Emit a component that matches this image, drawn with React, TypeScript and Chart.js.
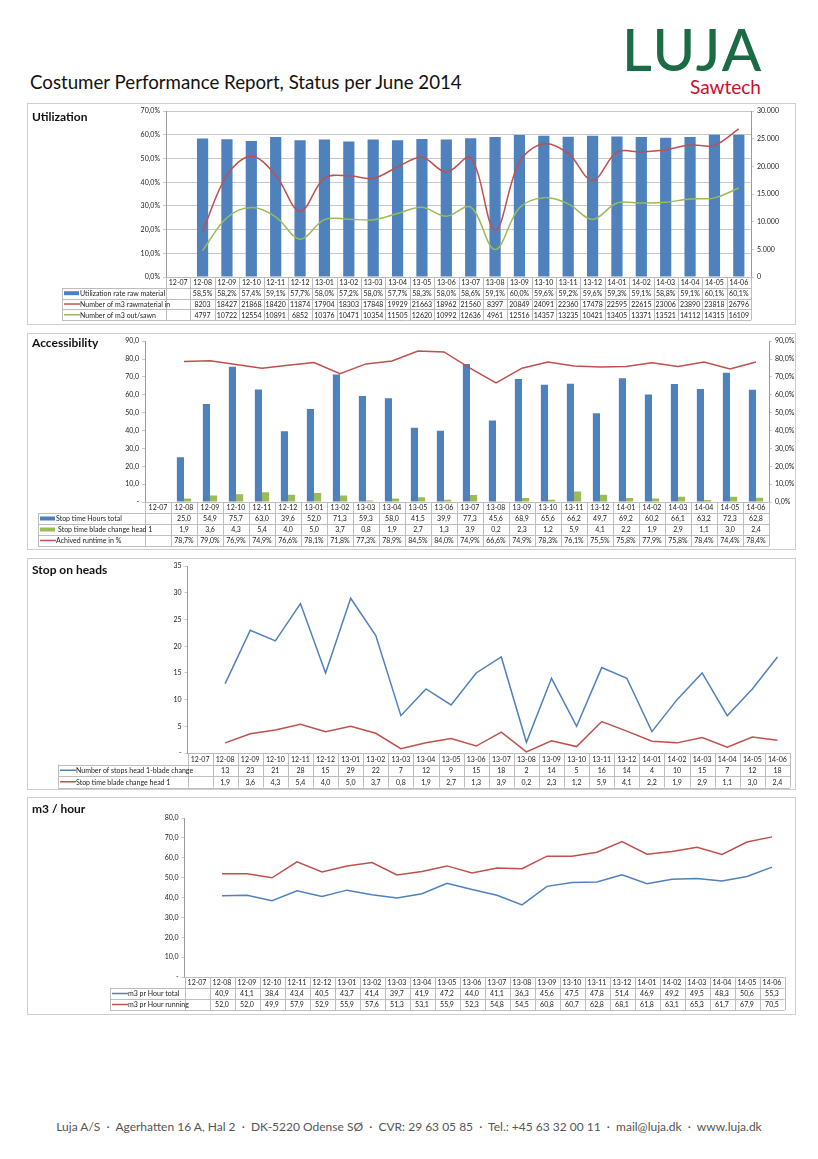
import React, { useEffect, useRef } from 'react';
import { Chart, registerables } from 'chart.js';
Chart.register(...registerables);

const categories = ['12-07','12-08','12-09','12-10','12-11','12-12','13-01','13-02','13-03','13-04','13-05','13-06','13-07','13-08','13-09','13-10','13-11','13-12','14-01','14-02','14-03','14-04','14-05','14-06'];

const utilizationRate = [null,58.5,58.2,57.4,59.1,57.7,58.0,57.2,58.0,57.7,58.3,58.0,58.6,59.1,60.0,59.6,59.2,59.6,59.3,59.1,58.8,59.1,60.1,60.1];
const rawMaterialIn = [null,8203,18427,21868,18420,11874,17904,18303,17848,19929,21663,18962,21560,8397,20849,24091,22360,17478,22595,22615,23006,23890,23818,26796];
const sawnOut = [null,4797,10722,12554,10891,6852,10376,10471,10354,11505,12620,10992,12636,4961,12516,14357,13235,10421,13405,13371,13521,14112,14315,16109];

const stopHoursTotal = [null,25.0,54.9,75.7,63.0,39.6,52.0,71.3,59.3,58.0,41.5,39.9,77.3,45.6,68.9,65.6,66.2,49.7,69.2,60.2,66.1,63.2,72.3,62.8];
const bladeChangeStop = [null,1.9,3.6,4.3,5.4,4.0,5.0,3.7,0.8,1.9,2.7,1.3,3.9,0.2,2.3,1.2,5.9,4.1,2.2,1.9,2.9,1.1,3.0,2.4];
const achievedRuntime = [null,78.7,79.0,76.9,74.9,76.6,78.1,71.8,77.3,78.9,84.5,84.0,74.9,66.6,74.9,78.3,76.1,75.5,75.8,77.9,75.8,78.4,74.4,78.4];

const stopsHead1 = [null,13,23,21,28,15,29,22,7,12,9,15,18,2,14,5,16,14,4,10,15,7,12,18];

const m3HourTotal = [null,40.9,41.1,38.4,43.4,40.5,43.7,41.4,39.7,41.9,47.2,44.0,41.1,36.3,45.6,47.5,47.8,51.4,46.9,49.2,49.5,48.3,50.6,55.3];
const m3HourRunning = [null,52.0,52.0,49.9,57.9,52.9,55.9,57.6,51.3,53.1,55.9,52.3,54.8,54.5,60.8,60.7,62.8,68.1,61.8,63.1,65.3,61.7,67.9,70.5];

const utilLeftTicks = ['0,0%','10,0%','20,0%','30,0%','40,0%','50,0%','60,0%','70,0%'];
const utilRightTicks = ['0','5.000','10.000','15.000','20.000','25.000','30.000'];
const accLeftTicks = ['-','10,0','20,0','30,0','40,0','50,0','60,0','70,0','80,0','90,0'];
const accRightTicks = ['0,0%','10,0%','20,0%','30,0%','40,0%','50,0%','60,0%','70,0%','80,0%','90,0%'];
const stopTicks = ['-','5','10','15','20','25','30','35'];
const m3Ticks = ['-','10,0','20,0','30,0','40,0','50,0','60,0','70,0','80,0'];

const BLUE = '#4f81bd';
const RED = '#c0504d';
const GREEN = '#9bbb59';
const FONT = 'Lato, "Liberation Sans", sans-serif';

const pct = (v: number | null) => (v == null ? '' : v.toFixed(1).replace('.', ',') + '%');
const dec = (v: number | null) => (v == null ? '' : v.toFixed(1).replace('.', ','));
const int = (v: number | null) => (v == null ? '' : String(v));

type Row = { label: string; kind: 'bar' | 'line'; color: string; values: string[]; indent?: number };

const BOX_LEFT = 27;
const BOX_W = 769;

function tablePlugin(rows: Row[], legendLeftPage: number, rowH: number) {
  return {
    id: 'dataTable',
    afterDraw(chart: any) {
      const { ctx, chartArea } = chart;
      const xs = chart.scales.x;
      const n = categories.length;
      const colW = (chartArea.right - chartArea.left) / n;
      const top = chartArea.bottom;
      const legendLeft = legendLeftPage - (BOX_LEFT + 1);
      const L = chartArea.left;
      const R = chartArea.right;
      ctx.save();
      ctx.strokeStyle = '#bdbdbd';
      ctx.lineWidth = 1;
      const hl = (x1: number, x2: number, y: number) => {
        ctx.beginPath();
        ctx.moveTo(x1, Math.round(y) + 0.5);
        ctx.lineTo(x2, Math.round(y) + 0.5);
        ctx.stroke();
      };
      const vl = (x: number, y1: number, y2: number) => {
        ctx.beginPath();
        ctx.moveTo(Math.round(x) + 0.5, y1);
        ctx.lineTo(Math.round(x) + 0.5, y2);
        ctx.stroke();
      };
      const bottom = top + rowH * (rows.length + 1);
      hl(L, R, top);
      for (let r = 1; r <= rows.length + 1; r++) hl(legendLeft, R, top + r * rowH);
      for (let i = 0; i <= n; i++) vl(L + i * colW, top, bottom);
      vl(legendLeft, top + rowH, bottom);
      ctx.fillStyle = '#222';
      ctx.font = `7px ${FONT}`;
      ctx.textAlign = 'center';
      ctx.textBaseline = 'middle';
      for (let i = 0; i < n; i++) {
        const cx = xs.getPixelForValue(i);
        ctx.fillText(categories[i], cx, top + rowH / 2 + 0.5);
        rows.forEach((row, r) => {
          const v = row.values[i];
          if (v) ctx.fillText(v, cx, top + (r + 1) * rowH + rowH / 2 + 0.5);
        });
      }
      rows.forEach((row, r) => {
        const cy = top + (r + 1) * rowH + rowH / 2;
        if (row.kind === 'bar') {
          ctx.fillStyle = row.color;
          ctx.fillRect(legendLeft + 2, cy - 2, 15, 4);
        } else {
          ctx.strokeStyle = row.color;
          ctx.lineWidth = 1.5;
          ctx.beginPath();
          ctx.moveTo(legendLeft + 2, cy);
          ctx.lineTo(legendLeft + 18, cy);
          ctx.stroke();
        }
        ctx.fillStyle = '#222';
        ctx.textAlign = 'left';
        ctx.fillText(row.label, legendLeft + 18 + (row.indent || 0), cy + 0.5);
      });
      ctx.restore();
    },
  };
}

type Geo = { top: number; height: number; plotL: number; plotR: number; plotT: number; plotB: number; rightAxis: boolean };

function layoutFor(g: Geo) {
  const ox = BOX_LEFT + 1;
  const oy = g.top + 1;
  const cw = BOX_W - 2;
  const ch = g.height - 2;
  return {
    padding: {
      left: 0,
      top: g.plotT - oy,
      bottom: ch - (g.plotB - oy),
      right: g.rightAxis ? 0 : cw - (g.plotR - ox),
    },
    leftW: g.plotL - ox,
    rightW: cw - (g.plotR - ox),
  };
}

function yAxis(pos: 'left' | 'right', max: number, step: number, labels: string[], width: number, grid: boolean) {
  return {
    position: pos,
    min: 0,
    max,
    afterFit: (s: any) => { s.width = width; },
    ticks: {
      stepSize: step,
      font: { family: FONT, size: 7 },
      color: '#222',
      padding: 3,
      callback: (_v: any, i: number) => labels[i],
    },
    grid: {
      display: true,
      drawOnChartArea: grid,
      color: '#c8c8c8',
      tickLength: 3,
    },
    border: { display: true, color: '#9a9a9a' },
  };
}

const xAxis = { type: 'category', display: false, offset: true, grid: { offset: true } };

const baseOpts = (g: Geo) => {
  const lay = layoutFor(g);
  return {
    responsive: false,
    animation: false,
    devicePixelRatio: 1,
    layout: { padding: lay.padding },
    plugins: { legend: { display: false }, tooltip: { enabled: false } },
    elements: { point: { radius: 0 } },
  };
};

const geo1: Geo = { top: 103, height: 222, plotL: 166, plotR: 751, plotT: 111, plotB: 277, rightAxis: true };
const geo2: Geo = { top: 333, height: 217, plotL: 145, plotR: 769, plotT: 341, plotB: 502, rightAxis: true };
const geo3: Geo = { top: 558, height: 232, plotL: 187.5, plotR: 790, plotT: 563, plotB: 753, rightAxis: false };
const geo4: Geo = { top: 797, height: 218, plotL: 184.5, plotR: 784.5, plotT: 818, plotB: 977, rightAxis: false };

function config1(): any {
  const lay = layoutFor(geo1);
  return {
    type: 'bar',
    data: {
      labels: categories,
      datasets: [
        { type: 'bar', label: 'Utilization rate raw material', data: utilizationRate, backgroundColor: BLUE, yAxisID: 'y', barPercentage: 0.46, categoryPercentage: 1, order: 2 },
        { type: 'line', label: 'Number of m3 rawmaterial in', data: rawMaterialIn, borderColor: RED, borderWidth: 1.5, tension: 0.35, yAxisID: 'y1', order: 1 },
        { type: 'line', label: 'Number of m3 out/sawn', data: sawnOut, borderColor: GREEN, borderWidth: 1.5, tension: 0.35, yAxisID: 'y1', order: 1 },
      ],
    },
    options: {
      ...baseOpts(geo1),
      scales: {
        x: xAxis,
        y: yAxis('left', 70, 10, utilLeftTicks, lay.leftW, true),
        y1: yAxis('right', 30000, 5000, utilRightTicks, lay.rightW, false),
      },
    },
    plugins: [tablePlugin([
      { label: 'Utilization rate raw material', kind: 'bar', color: BLUE, values: utilizationRate.map(pct) },
      { label: 'Number of m3 rawmaterial in', kind: 'line', color: RED, values: rawMaterialIn.map(int) },
      { label: 'Number of m3 out/sawn', kind: 'line', color: GREEN, values: sawnOut.map(int) },
    ], 62, 10.8)],
  };
}

function config2(): any {
  const lay = layoutFor(geo2);
  return {
    type: 'bar',
    data: {
      labels: categories,
      datasets: [
        { type: 'bar', label: 'Stop time Hours total', data: stopHoursTotal, backgroundColor: BLUE, yAxisID: 'y', barPercentage: 1, categoryPercentage: 0.55, order: 2 },
        { type: 'bar', label: 'Stop time blade change head 1', data: bladeChangeStop, backgroundColor: GREEN, yAxisID: 'y', barPercentage: 1, categoryPercentage: 0.55, order: 2 },
        { type: 'line', label: 'Achived runtime in %', data: achievedRuntime, borderColor: RED, borderWidth: 1.5, tension: 0, yAxisID: 'y1', order: 1 },
      ],
    },
    options: {
      ...baseOpts(geo2),
      scales: {
        x: xAxis,
        y: yAxis('left', 90, 10, accLeftTicks, lay.leftW, false),
        y1: yAxis('right', 90, 10, accRightTicks, lay.rightW, false),
      },
    },
    plugins: [tablePlugin([
      { label: 'Stop time Hours total', kind: 'bar', color: BLUE, values: stopHoursTotal.map(dec) },
      { label: 'Stop time blade change head 1', kind: 'bar', color: GREEN, values: bladeChangeStop.map(dec), indent: 2 },
      { label: 'Achived runtime in %', kind: 'line', color: RED, values: achievedRuntime.map(pct) },
    ], 38, 11)],
  };
}

function config3(): any {
  const lay = layoutFor(geo3);
  return {
    type: 'line',
    data: {
      labels: categories,
      datasets: [
        { label: 'Number of stops head 1-blade change', data: stopsHead1, borderColor: BLUE, borderWidth: 1.5, tension: 0 },
        { label: 'Stop time blade change head 1', data: bladeChangeStop, borderColor: RED, borderWidth: 1.5, tension: 0 },
      ],
    },
    options: {
      ...baseOpts(geo3),
      scales: {
        x: xAxis,
        y: yAxis('left', 35, 5, stopTicks, lay.leftW, false),
      },
    },
    plugins: [tablePlugin([
      { label: 'Number of stops head 1-blade change', kind: 'line', color: BLUE, values: stopsHead1.map(int) },
      { label: 'Stop time blade change head 1', kind: 'line', color: RED, values: bladeChangeStop.map(dec) },
    ], 58, 11.5)],
  };
}

function config4(): any {
  const lay = layoutFor(geo4);
  return {
    type: 'line',
    data: {
      labels: categories,
      datasets: [
        { label: 'm3 pr Hour total', data: m3HourTotal, borderColor: BLUE, borderWidth: 1.5, tension: 0 },
        { label: 'm3 pr Hour running', data: m3HourRunning, borderColor: RED, borderWidth: 1.5, tension: 0 },
      ],
    },
    options: {
      ...baseOpts(geo4),
      scales: {
        x: xAxis,
        y: yAxis('left', 80, 10, m3Ticks, lay.leftW, false),
      },
    },
    plugins: [tablePlugin([
      { label: 'm3 pr Hour total', kind: 'line', color: BLUE, values: m3HourTotal.map(dec) },
      { label: 'm3 pr Hour running', kind: 'line', color: RED, values: m3HourRunning.map(dec) },
    ], 110, 11)],
  };
}

function Panel({ geo, title, titleY, make }: { geo: Geo; title: string; titleY: number; make: () => any }) {
  const ref = useRef<HTMLCanvasElement>(null);
  useEffect(() => {
    const chart = new Chart(ref.current as HTMLCanvasElement, make());
    return () => chart.destroy();
  }, []);
  return (
    <div style={{ position: 'absolute', left: BOX_LEFT, top: geo.top, width: BOX_W, height: geo.height, boxSizing: 'border-box', border: '1px solid #cfcfcf', background: '#fff' }}>
      <canvas ref={ref} width={BOX_W - 2} height={geo.height - 2} style={{ position: 'absolute', left: 0, top: 0, width: BOX_W - 2, height: geo.height - 2 }} />
      <div style={{ position: 'absolute', left: 4, top: titleY - geo.top - 8, fontFamily: FONT, fontWeight: 700, fontSize: 12, color: '#111', lineHeight: '14px', whiteSpace: 'nowrap' }}>{title}</div>
    </div>
  );
}

export default function App() {
  return (
    <div style={{ position: 'absolute', left: 0, top: 0, width: 818, height: 1159, background: '#fff', overflow: 'hidden' }}>
      <div style={{ position: 'absolute', left: 622, top: 14, fontFamily: FONT, fontSize: 58, fontWeight: 500, color: '#1b6b45', letterSpacing: 2, lineHeight: '70px' }}>LUJA</div>
      <div style={{ position: 'absolute', left: 690, top: 75, fontFamily: FONT, fontSize: 19, color: '#c8102e', lineHeight: '24px' }}>Sawtech</div>
      <div style={{ position: 'absolute', left: 30, top: 70, fontFamily: FONT, fontSize: 18.7, color: '#111', lineHeight: '24px', whiteSpace: 'nowrap' }}>Costumer Performance Report, Status per June 2014</div>
      <Panel geo={geo1} title="Utilization" titleY={117} make={config1} />
      <Panel geo={geo2} title="Accessibility" titleY={343} make={config2} />
      <Panel geo={geo3} title="Stop on heads" titleY={570} make={config3} />
      <Panel geo={geo4} title="m3 / hour" titleY={809} make={config4} />
      <div style={{ position: 'absolute', left: 0, width: 818, top: 1119, textAlign: 'center', fontFamily: FONT, fontSize: 12, color: '#555', whiteSpace: 'nowrap' }}>
        Luja A/S &nbsp;·&nbsp; Agerhatten 16 A, Hal 2 &nbsp;·&nbsp; DK-5220 Odense SØ &nbsp;·&nbsp; CVR: 29 63 05 85 &nbsp;·&nbsp; Tel.: +45 63 32 00 11 &nbsp;·&nbsp; mail@luja.dk &nbsp;·&nbsp; www.luja.dk
      </div>
    </div>
  );
}
